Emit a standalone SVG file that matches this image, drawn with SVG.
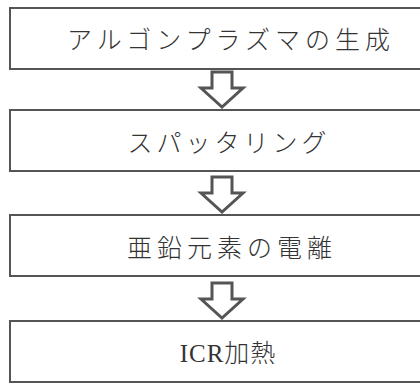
<svg xmlns="http://www.w3.org/2000/svg" width="420" height="383" viewBox="0 0 420 383">
<style>
.box{fill:#fff;stroke:#555;stroke-width:2}
.lbl{font-family:"Liberation Serif","Noto Sans CJK JP",serif;font-size:25px;fill:#333;text-anchor:middle;letter-spacing:5px;font-weight:300}
.arr{fill:#fff;stroke:#555;stroke-width:3;stroke-linejoin:miter}
</style>
<rect width="420" height="383" fill="#fff"/>
<g id="connectors">
<polygon class="arr" points="212,72 232,72 232,88 243,88 222,107 201,88 212,88"/>
<polygon class="arr" points="212,177 232,177 232,193 243,193 222,212 201,193 212,193"/>
<polygon class="arr" points="212,283 232,283 232,299 243,299 222,318 201,299 212,299"/>
</g>
<g id="n1">
<rect class="box" x="10" y="8" width="430" height="61"/>
<text class="lbl" x="231" y="49">アルゴンプラズマの生成</text>
</g>
<g id="n2">
<rect class="box" x="10" y="110" width="430" height="61"/>
<text class="lbl" x="229" y="152" style="letter-spacing:4px">スパッタリング</text>
</g>
<g id="n3">
<rect class="box" x="10" y="215" width="430" height="61"/>
<text class="lbl" x="232" y="257">亜鉛元素の電離</text>
</g>
<g id="n4">
<rect class="box" x="10" y="321" width="430" height="61"/>
<text class="lbl" x="228" y="362" style="letter-spacing:1px">ICR加熱</text>
</g>
</svg>
